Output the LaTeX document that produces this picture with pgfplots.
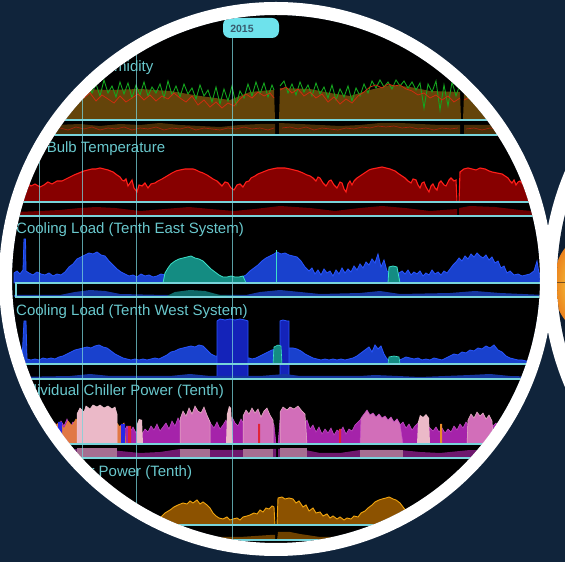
\documentclass[border=0pt]{standalone}
\usepackage{pgfplots}
\pgfplotsset{compat=1.18}
\usepackage{fontspec}
\setmainfont{Liberation Sans}
\definecolor{navy}{RGB}{16,36,59}
\definecolor{navyd}{RGB}{14,30,50}
\definecolor{blobin}{RGB}{250,225,70}
\definecolor{blobout}{RGB}{235,130,30}
\definecolor{blobline}{RGB}{120,80,30}
\definecolor{cyanline}{RGB}{120,212,218}
\definecolor{titlec}{RGB}{105,200,205}
\definecolor{hbrown}{RGB}{100,68,10}
\definecolor{hbrownd}{RGB}{72,46,6}
\definecolor{hgreen}{RGB}{20,165,30}
\definecolor{hred}{RGB}{205,45,15}
\definecolor{tfill}{RGB}{135,0,0}
\definecolor{tline}{RGB}{255,30,25}
\definecolor{tstrip}{RGB}{105,0,0}
\definecolor{bfill}{RGB}{25,65,205}
\definecolor{bline}{RGB}{40,85,255}
\definecolor{bblock}{RGB}{20,35,185}
\definecolor{tealf}{RGB}{20,140,130}
\definecolor{teall}{RGB}{60,225,200}
\definecolor{bstrip}{RGB}{22,55,160}
\definecolor{tstripb}{RGB}{15,105,105}
\definecolor{magf}{RGB}{165,35,170}
\definecolor{magl}{RGB}{200,80,200}
\definecolor{magd}{RGB}{110,25,110}
\definecolor{pinkw}{RGB}{235,185,200}
\definecolor{pinkm}{RGB}{210,110,185}
\definecolor{pinkd}{RGB}{165,110,145}
\definecolor{peach}{RGB}{225,120,70}
\definecolor{cbl}{RGB}{40,40,230}
\definecolor{cred}{RGB}{225,35,55}
\definecolor{corg}{RGB}{235,140,40}
\definecolor{ofill}{RGB}{140,82,0}
\definecolor{oline}{RGB}{240,165,15}
\definecolor{ostrip}{RGB}{110,65,0}
\definecolor{pillc}{RGB}{110,226,236}
\definecolor{pilltext}{RGB}{55,90,110}
\pgfplotsset{panel/.style={x=1pt,y=1pt,xmin=0,xmax=565,ymin=-16,ymax=60,hide axis,clip=false,enlargelimits=false,anchor=south west,unbounded coords=jump}}
\begin{document}
\begin{tikzpicture}
\useasboundingbox (0pt,0pt) rectangle (565pt,562pt);
\fill[navy] (0pt,0pt) rectangle (565pt,562pt);
\begin{scope}[x=1pt,y=1pt]
\clip (0,0) rectangle (565,562);
% second (partial) circle on the right
\fill[white] (819,283) circle (276pt);
\begin{scope}
\clip (819,283) circle (262pt);
\fill[navyd] (819,283) circle (262pt);
\shade[inner color=blobin, outer color=blobout] (580,278) ellipse (26pt and 44pt);
\draw[blobline, line width=1pt] (550,279) -- (570,279);
\end{scope}
% main circle content
\begin{scope}
\clip (276,283) circle (264pt);
\fill[black] (276,283) circle (264pt);

% ---------------- Panel 1: humidity ----------------
\begin{axis}[panel, at={(0pt,426pt)}]
\addplot[fill=hbrown, draw=none] coordinates {(55,28) (80,31) (110,30) (140,31) (170,29) (200,24) (230,20) (250,28) (272,30) (274,30) (275,0) (279,0) (280,32) (310,31) (330,27) (350,24) (370,30) (390,35) (410,33) (430,29) (460,28) (461,0) (463,0) (464,26) (500,25)} \closedcycle;
\addplot[hgreen, line width=0.9pt] coordinates {(60,30) (64,37) (68,26) (72,39) (76,28) (80,35) (84,25) (88,38) (92,27) (96,36)
(100,24) (104,40) (108,27) (112,34) (116,23) (120,38) (124,26) (128,37) (132,22) (136,35)
(140,25) (144,38) (148,24) (152,33) (156,27) (160,36) (164,22) (168,39) (172,25) (176,34)
(180,23) (184,36) (188,26) (192,32) (196,21) (200,35) (204,24) (208,30) (212,18) (216,33)
(220,16) (224,31) (228,19) (232,34) (236,15) (240,29) (244,22) (248,36) (252,24) (256,38)
(260,26) (264,37) (268,23) (272,35) (274,30) (276,nan) (280,34)
(284,39) (288,27) (292,36) (296,25) (300,38) (304,28) (308,35) (312,24) (316,37) (320,26)
(324,33) (328,22) (332,35) (336,20) (340,31) (344,23) (348,34) (352,19) (356,32) (360,24)
(364,36) (368,27) (372,39) (376,32) (380,40) (384,33) (388,38) (392,31) (396,40) (400,34)
(404,39) (408,32) (412,38) (416,30) (420,37) (424,12) (428,36) (432,28) (436,39) (440,10)
(444,35) (448,14) (452,38) (456,24) (460,36) (462,nan) (464,31) (468,22) (472,33) (476,20) (480,32) (484,24) (488,30) (492,21) (496,29)};
\addplot[hred, line width=0.8pt] coordinates {(60,24) (66,28) (72,20) (78,26) (84,22) (90,27) (96,19) (102,25) (108,21) (114,17) (120,24) (126,18) (132,22) (138,26) (144,20) (150,25) (156,19) (162,24) (168,21) (174,27) (180,22) (186,18) (192,24) (198,15) (204,20) (210,13) (216,18) (222,12) (228,17) (234,14) (240,21) (246,26) (252,22) (258,28) (264,24) (270,27) (274,22) (276,nan) (280,30) (286,33) (292,27) (298,31) (304,24) (310,28) (316,22) (322,26) (328,18) (334,23) (340,16) (346,21) (352,17) (358,24) (364,28) (370,33) (376,35) (382,32) (388,36) (394,34) (400,35) (406,31) (412,29) (418,25) (424,27) (430,22) (436,25) (442,20) (448,24) (454,18) (460,22) (462,nan) (464,20) (470,23) (476,18) (482,22) (488,19) (494,21)};
\addplot[fill=hbrownd, draw=none] coordinates {(55,-15) (55,-5) (80,-4) (100,-6) (120,-4) (140,-5) (160,-3) (180,-5) (200,-6) (220,-7) (240,-5) (260,-4) (275,-4) (275,-15) (279,-15) (279,-3) (300,-4) (320,-5) (340,-6) (360,-5) (380,-3) (400,-3) (420,-4) (440,-5) (460,-5) (460,-15) (464,-15) (464,-5) (500,-5) (500,-15)} -- cycle;
\addplot[hred!80!black, line width=0.7pt] coordinates {(60,-8) (68,-10) (76,-7) (84,-9) (92,-7) (100,-10) (108,-8) (116,-9) (124,-7) (132,-10) (140,-8) (148,-9) (156,-7) (164,-10) (172,-8) (180,-9) (188,-7) (196,-10) (204,-8) (212,-9) (220,-10) (228,-8) (236,-9) (244,-7) (252,-9) (260,-8) (268,-10) (274,-8) (276,nan) (282,-8) (290,-7) (298,-9) (306,-7) (314,-10) (322,-8) (330,-9) (338,-10) (346,-8) (354,-9) (362,-7) (370,-8) (378,-6) (386,-7) (394,-6) (402,-8) (410,-7) (418,-9) (426,-8) (434,-10) (442,-8) (450,-9) (458,-8) (462,nan) (466,-9) (474,-8) (482,-10) (490,-8) (498,-9)};
\end{axis}

% ---------------- Panel 2: wet bulb temperature ----------------
\begin{axis}[panel, at={(0pt,344pt)}]
\addplot[fill=tfill, draw=tline, line width=1.1pt] coordinates {(18,17) (22,15) (27,19) (31,16) (35,18) (40,15) (44,17) (48,20) (52,18) (57,21) (62,21) (66,23) (70,25) (74,27) (79,29) (84,31) (88,32) (92,33) (96,33) (100,34) (104,33) (108,32) (113,30) (117,27) (120,25) (122,22) (124,21) (126,23) (128,16) (130,19) (132,22) (134,14) (137,10) (139,17) (142,16) (145,19) (148,14) (151,18) (155,19) (158,21) (162,23) (167,26) (172,29) (176,31) (180,32) (185,33) (189,33) (193,33) (196,32) (200,30) (203,29) (207,27) (210,25) (213,23) (217,21) (220,18) (222,16) (225,20) (228,19) (231,14) (234,12) (237,17) (240,18) (243,15) (246,20) (249,21) (251,24) (255,26) (258,28) (263,30) (268,32) (272,33) (277,34) (281,34) (285,34) (290,33) (294,32) (298,31) (303,29) (307,27) (310,26) (313,24) (316,21) (318,25) (320,24) (323,19) (326,16) (329,21) (331,22) (334,17) (337,14) (340,20) (342,19) (344,13) (346,10) (348,18) (350,21) (352,17) (354,21) (357,24) (360,26) (363,28) (366,30) (369,32) (372,33) (377,34) (382,35) (386,34) (390,33) (395,31) (399,28) (402,26) (405,24) (408,21) (411,19) (413,23) (416,22) (418,17) (420,14) (422,19) (424,20) (426,15) (429,10) (431,16) (433,18) (435,14) (437,12) (439,19) (441,21) (444,17) (446,16) (449,22) (451,24) (454,21) (456,22) (457,0) (459,0) (460,30) (464,33) (468,34) (472,33) (476,32) (480,34) (485,33) (489,31) (492,30) (497,29) (502,28) (505,26) (508,24) (510,21) (512,19) (514,22) (516,17) (518,20) (520,21) (523,18) (526,16) (529,19) (532,18) (535,15) (538,14) (541,16) (545,15)} \closedcycle;
\addplot[fill=tstrip, draw=none] coordinates {(16,-14) (16,-10) (40,-9) (60,-8) (80,-6) (96,-5) (115,-6) (140,-9) (165,-7) (189,-5) (210,-7) (234,-9) (255,-7) (280,-4) (310,-6) (335,-9) (360,-6) (382,-4) (405,-6) (430,-9) (457,-7) (457,-14) (459,-14) (459,-6) (470,-4) (495,-5) (520,-8) (545,-10) (545,-14)} -- cycle;
\end{axis}

% ---------------- Panel 3: cooling load east ----------------
\begin{axis}[panel, at={(0pt,263pt)}]
\addplot[fill=bfill, draw=bline, line width=0.8pt] coordinates {(14,10) (17,12) (20,9) (23,13) (24,44) (25.5,44) (26,12) (29,10) (33,8) (37,11) (41,9) (45,8) (49,10) (53,7) (57,9) (61,8) (65,11) (69,16) (73,19) (77,24) (81,26) (85,28) (89,30) (93,29) (97,31) (101,28) (105,27) (109,22) (113,18) (117,14) (121,11) (125,9) (129,7) (133,8) (137,6) (141,9) (145,7) (149,8) (153,6) (157,7) (161,9) (165,8) (170,5) (200,4) (240,5) (246,8) (250,12) (254,15) (258,18) (262,22) (266,25) (270,27) (274,29) (277,31) (281,29) (285,30) (289,28) (293,27) (297,26) (301,22) (305,16) (309,12) (312,15) (315,9) (318,13) (321,8) (324,14) (327,10) (330,12) (333,7) (336,13) (339,9) (342,15) (345,10) (348,14) (351,11) (354,17) (357,13) (360,19) (363,15) (366,21) (369,18) (372,24) (375,20) (378,29) (381,16) (384,23) (387,12) (392,10) (399,10) (402,12) (405,9) (408,13) (411,8) (414,11) (417,9) (420,12) (423,7) (426,10) (429,8) (432,13) (435,9) (438,11) (441,8) (444,12) (447,10) (450,14) (453,18) (456,21) (459,25) (462,22) (465,27) (468,24) (471,29) (474,26) (477,30) (480,27) (483,25) (486,28) (489,23) (492,26) (495,20) (498,22) (501,15) (504,17) (507,10) (510,12) (514,8) (518,9) (522,7) (526,8) (530,9) (534,12) (537,22) (539,10) (543,8) (548,7)} \closedcycle;
\addplot[fill=tealf, draw=teall, line width=0.8pt] coordinates {(163,0) (165,10) (168,15) (171,19) (175,22) (179,24) (183,25) (187,26) (191,27) (195,25) (199,24) (203,22) (207,18) (211,14) (215,11) (219,8) (223,6) (227,6) (231,7) (235,6) (239,6) (243,7) (246,0)} \closedcycle;
\addplot[fill=tealf, draw=teall, line width=0.8pt] coordinates {(388,0) (389,16) (393,17) (397,16) (400,0)} \closedcycle;
\addplot[teall, line width=1pt] coordinates {(276.5,0) (276.5,33)};
\addplot[fill=bstrip, draw=none] coordinates {(14,-14) (14,-12) (60,-12) (75,-9) (90,-7) (105,-8) (120,-11) (165,-12) (246,-12) (260,-9) (280,-7) (300,-9) (320,-11) (360,-10) (380,-8) (400,-11) (450,-10) (475,-8) (500,-10) (545,-12) (545,-14)} -- cycle;
\addplot[fill=tstripb, draw=none] coordinates {(165,-14) (175,-9) (190,-7) (205,-8) (220,-12) (246,-13) (246,-14)} -- cycle;
\end{axis}

% ---------------- Panel 4: cooling load west ----------------
\begin{axis}[panel, at={(0pt,182pt)}]
\addplot[fill=bfill, draw=bline, line width=0.8pt] coordinates {(14,4) (18,5) (22,4) (24,43) (26,43) (27,5) (31,4) (35,5) (39,4) (43,6) (47,5) (51,6) (55,5) (59,7) (63,8) (67,10) (71,12) (75,14) (79,15) (83,16) (87,17) (91,16) (95,18) (99,19) (103,17) (107,16) (111,13) (115,10) (119,8) (123,6) (127,5) (131,4) (135,5) (139,4) (143,5) (147,4) (151,5) (155,6) (159,5) (163,7) (167,9) (171,12) (175,13) (179,15) (183,16) (187,17) (191,18) (195,17) (199,19) (203,18) (207,14) (211,10) (215,8) (249,6) (252,5) (256,6) (260,8) (264,10) (268,12) (272,14) (276,15) (279,16) (290,16) (293,16) (297,15) (301,13) (305,10) (309,8) (313,6) (317,5) (321,4) (325,5) (329,4) (333,5) (337,4) (341,5) (345,4) (349,5) (353,6) (357,8) (361,11) (365,14) (369,17) (372,12) (375,19) (378,15) (381,18) (384,10) (387,5) (392,4) (399,4) (402,5) (406,7) (410,6) (414,5) (418,6) (422,4) (426,5) (430,4) (434,6) (438,5) (442,4) (446,6) (450,8) (454,10) (458,9) (462,12) (466,11) (470,14) (474,13) (478,16) (482,15) (486,18) (490,16) (494,19) (498,14) (502,12) (506,8) (510,6) (514,5) (518,4) (522,4) (526,3) (530,3) (535,3)} \closedcycle;
\addplot[fill=bblock, draw=bline, line width=0.8pt] coordinates {(217,-15) (217,43) (220,45) (225,44) (230,45) (235,44) (240,45) (245,44) (248,43) (248,-15)} -- cycle;
\addplot[fill=bblock, draw=bline, line width=0.8pt] coordinates {(280,-15) (280,43) (283,44) (287,43) (289,43) (289,-15)} -- cycle;
\addplot[fill=tealf, draw=teall, line width=0.6pt] coordinates {(273,0) (274,17) (278,19) (281,18) (282,0)} \closedcycle;
\addplot[fill=tealf, draw=teall, line width=0.6pt] coordinates {(388,0) (389,7) (394,8) (399,7) (400,0)} \closedcycle;
\addplot[fill=bstrip, draw=none] coordinates {(14,-15) (14,-13) (70,-12) (90,-10) (110,-12) (170,-12) (190,-10) (210,-12) (260,-12) (285,-10) (300,-12) (360,-12) (375,-11) (420,-13) (470,-11) (490,-10) (510,-12) (545,-13) (545,-15)} -- cycle;
\end{axis}

% ---------------- Panel 5: individual chiller power ----------------
\begin{axis}[panel, at={(0pt,102pt)}]
\addplot[fill=magf, draw=magl, line width=0.5pt] coordinates {(40,18) (43,22) (46,15) (49,24) (52,17) (55,21) (58,14) (61,23) (64,18) (67,25) (70,16) (73,22) (76,19) (79,24) (82,17) (85,21) (88,15) (91,23) (94,18) (97,20) (100,16) (103,24) (106,19) (109,22) (112,15) (115,20) (118,14) (121,19) (124,13) (127,18) (130,12) (133,17) (136,11) (139,16) (142,10) (145,15) (148,12) (151,18) (154,14) (157,20) (160,13) (163,17) (166,21) (169,15) (172,23) (175,18) (178,26) (181,20) (184,27) (187,22) (190,25) (193,19) (196,28) (199,21) (202,24) (205,18) (208,26) (211,20) (214,16) (217,22) (220,15) (223,19) (226,24) (229,17) (232,27) (235,21) (238,18) (241,25) (244,20) (247,27) (250,22) (253,26) (256,19) (259,25) (262,21) (265,28) (268,22) (271,25) (274,19) (276,0) (278,0) (280,24) (283,28) (286,22) (289,27) (292,21) (295,26) (298,23) (301,28) (304,20) (307,24) (310,15) (313,19) (316,12) (319,17) (322,10) (325,15) (328,11) (331,16) (334,9) (337,14) (340,12) (343,17) (346,10) (349,15) (352,13) (355,19) (358,22) (361,25) (364,20) (367,27) (370,23) (373,28) (376,24) (379,29) (382,25) (385,27) (388,23) (391,26) (394,21) (397,25) (400,19) (403,22) (406,16) (409,20) (412,14) (415,18) (418,21) (421,17) (424,22) (427,19) (430,16) (433,13) (436,17) (439,12) (442,16) (445,11) (448,15) (451,12) (454,18) (457,14) (460,20) (463,16) (466,22) (469,18) (472,24) (475,20) (478,26) (481,21) (484,25) (487,19) (490,23) (493,18) (496,21) (499,15) (502,19) (505,14) (508,17)} \closedcycle;
\addplot[fill=peach, draw=corg, line width=0.5pt] coordinates {(40,0) (40,17) (44,21) (48,16) (52,24) (56,19) (60,22) (64,15) (68,23) (72,18) (76,25) (80,20) (84,24) (88,19) (92,26) (96,21) (100,23) (104,18) (108,24) (112,20) (116,22) (120,17) (124,21) (126,0)} \closedcycle;
\addplot[fill=pinkw, draw=pinkw!80!white, line width=0.5pt] coordinates {(77,0) (77,30) (80,36) (84,32) (86,38) (90,35) (93,39) (97,37) (100,39) (104,36) (108,38) (112,35) (115,37) (117,30) (117,0)} \closedcycle;
\addplot[fill=pinkw, draw=none] coordinates {(137,0) (137,20) (139,25) (142,24) (143,0)} \closedcycle;
\addplot[fill=pinkm, draw=pinkw, line width=0.5pt] coordinates {(180,0) (180,25) (183,33) (186,28) (189,36) (192,30) (195,38) (198,33) (201,31) (204,37) (207,29) (210,22) (210,0)} \closedcycle;
\addplot[fill=pinkw, draw=none] coordinates {(226,0) (227,30) (229,38) (231,36) (233,0)} \closedcycle;
\addplot[fill=pinkm, draw=pinkw, line width=0.5pt] coordinates {(243,0) (243,28) (246,34) (249,30) (252,36) (255,31) (258,35) (261,27) (264,33) (267,36) (270,29) (273,24) (273,0)} \closedcycle;
\addplot[fill=pinkm, draw=pinkw, line width=0.5pt] coordinates {(280,0) (280,32) (283,37) (287,34) (290,37) (294,35) (298,38) (302,33) (305,30) (307,0)} \closedcycle;
\addplot[fill=pinkm, draw=magl, line width=0.5pt] coordinates {(360,0) (361,26) (364,30) (367,34) (370,29) (373,31) (376,27) (379,30) (382,26) (385,28) (388,24) (391,27) (394,22) (397,25) (400,20) (403,0)} \closedcycle;
\addplot[fill=pinkw, draw=none] coordinates {(417,0) (418,22) (420,29) (423,27) (426,30) (429,26) (430,0)} \closedcycle;
\addplot[fill=pinkm, draw=pinkw, line width=0.5pt] coordinates {(467,0) (468,24) (471,30) (474,26) (477,32) (480,28) (483,31) (486,25) (489,29) (492,23) (493,0)} \closedcycle;
\addplot[fill=cbl, draw=none] coordinates {(58,0) (58,22) (62,22) (62,0)} \closedcycle;
\addplot[fill=cbl, draw=none] coordinates {(121,0) (121,20) (125,20) (125,0)} \closedcycle;
\addplot[fill=cred, draw=none] coordinates {(128,0) (128,18) (131,18) (131,0)} \closedcycle;
\addplot[fill=cred, draw=none] coordinates {(258,0) (258,20) (260,20) (260,0)} \closedcycle;
\addplot[fill=cred, draw=none] coordinates {(339,0) (339,15) (341,15) (341,0)} \closedcycle;
\addplot[fill=corg, draw=none] coordinates {(440,0) (440,20) (442,20) (442,0)} \closedcycle;
\addplot[fill=magd, draw=none] coordinates {(40,-14) (40,-8) (60,-6) (80,-5) (100,-5) (120,-7) (140,-9) (160,-8) (180,-5) (210,-6) (240,-6) (270,-5) (276,-5) (276,-14) (278,-14) (278,-5) (300,-5) (320,-9) (340,-9) (360,-6) (400,-6) (420,-8) (440,-9) (470,-6) (500,-7) (510,-8) (510,-14)} -- cycle;
\addplot[fill=pinkd, draw=none] coordinates {(77,-14) (77,-4) (117,-4) (117,-14)} -- cycle;
\addplot[fill=pinkd, draw=none] coordinates {(180,-14) (180,-5) (210,-5) (210,-14)} -- cycle;
\addplot[fill=pinkd, draw=none] coordinates {(243,-14) (243,-5) (273,-5) (273,-14)} -- cycle;
\addplot[fill=pinkd, draw=none] coordinates {(280,-14) (280,-4) (307,-4) (307,-14)} -- cycle;
\addplot[fill=pinkd, draw=none] coordinates {(360,-14) (360,-6) (403,-6) (403,-14)} -- cycle;
\end{axis}

% ---------------- Panel 6: total chiller power ----------------
\begin{axis}[panel, at={(0pt,21pt)}]
\addplot[fill=ofill, draw=oline, line width=0.9pt] coordinates {(150,5) (155,7) (160,7) (165,12) (170,15) (174,18) (178,20) (183,22) (187,21) (190,24) (193,22) (197,25) (200,21) (203,23) (207,20) (210,17) (213,12) (216,9) (219,7) (223,6) (227,8) (230,5) (233,6) (237,7) (240,5) (243,8) (247,9) (250,10) (254,12) (257,11) (260,15) (263,13) (266,17) (269,16) (272,19) (274,18) (275,0) (277,0) (278,27) (282,28) (285,26) (289,27) (293,26) (296,22) (299,24) (303,18) (306,20) (309,14) (313,17) (316,12) (320,13) (323,9) (327,11) (330,7) (333,9) (337,6) (340,8) (344,5) (347,7) (351,6) (354,9) (358,8) (361,12) (365,14) (368,17) (372,20) (375,23) (379,25) (382,26) (386,27) (389,28) (393,26) (396,25) (400,22) (403,18) (407,13) (411,10) (415,8) (420,6) (425,5)} \closedcycle;
\addplot[fill=ostrip, draw=none] coordinates {(150,-15) (150,-12) (170,-9) (185,-8) (200,-8) (215,-12) (240,-12) (270,-10) (275,-10) (275,-15) (277,-15) (278,-7) (290,-7) (300,-9) (320,-12) (350,-12) (370,-9) (390,-8) (405,-10) (425,-12) (425,-15)} -- cycle;
\end{axis}

% frames of the panels and overview strips
\begin{scope}[cyanline, line width=1.5pt]
\draw (16,442) rectangle (575,427);
\draw (16,360) rectangle (575,346);
\draw (16,279) rectangle (575,265);
\draw (16,198) rectangle (575,183);
\draw (16,118) rectangle (575,104);
\draw (16,37) rectangle (575,22);
\end{scope}
% cursor lines
\begin{scope}[cyanline, line width=0.9pt, opacity=0.75]
\draw (39,0) -- (39,562);
\draw (82,0) -- (82,562);
\draw (136,0) -- (136,562);
\draw (232,0) -- (232,526);
\end{scope}
% titles
\begin{scope}[every node/.style={text=titlec, anchor=base west, inner sep=0pt, font=\fontsize{15}{18}\selectfont}]
\node at (14,490) {Outdoor Air Humidity};
\node at (16,409) {Wet Bulb Temperature};
\node at (16,328) {Cooling Load (Tenth East System)};
\node at (16,246) {Cooling Load (Tenth West System)};
\node at (16,166) {Individual Chiller Power (Tenth)};
\node at (16,85) {Total Chiller Power (Tenth)};
\end{scope}
% year marker
\fill[pillc, rounded corners=7pt] (223,524) rectangle (279,544);
\node[text=pilltext, inner sep=0pt, font=\fontsize{10.5}{12}\selectfont\bfseries] at (242,533) {2015};
\end{scope}
% white ring
\fill[white, even odd rule] (276,283) circle (277pt) (276,283) circle (264pt);
\end{scope}
\end{tikzpicture}
\end{document}
